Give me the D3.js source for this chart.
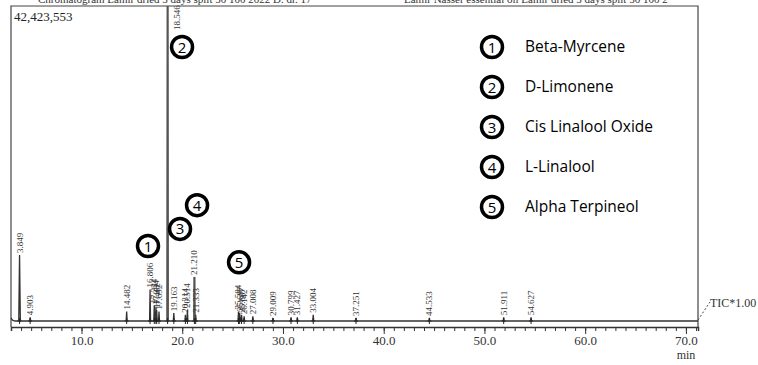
<!DOCTYPE html>
<html><head><meta charset="utf-8">
<script src="https://cdn.jsdelivr.net/npm/d3@7"></script>
<style>
html,body{margin:0;padding:0;background:#fff;}
svg{display:block;}
</style></head>
<body><div id="chart"></div>
<script>
// ---- data ----
const maxIntensity = 42423553;
const peakTimes = [3.849, 4.903, 14.482, 16.806, 17.224, 17.394, 17.462, 17.692, 18.546, 19.163, 20.314, 20.514, 21.210, 21.333, 25.584, 25.697, 25.887, 26.142, 27.008, 29.009, 30.799, 31.427, 33.004, 37.251, 44.533, 51.911, 54.627];
const peakHeights = [8900000, 500000, 1270000, 4240000, 2100000, 1900000, 1480000, 1270000, 42423553, 1060000, 850000, 1480000, 5940000, 850000, 1270000, 1060000, 850000, 640000, 640000, 420000, 510000, 510000, 850000, 420000, 420000, 510000, 510000];
const peakLabels = ["3.849", "4.903", "14.482", "16.806", "17.224", "17.394", "17.462", "17.692", "18.546", "19.163", "20.314", "20.514", "21.210", "21.333", "25.584", "25.697", "25.887", "26.142", "27.008", "29.009", "30.799", "31.427", "33.004", "37.251", "44.533", "51.911", "54.627"];
const xTickLabels = ["10.0", "20.0", "30.0", "40.0", "50.0", "60.0", "70.0"];
const xTickValues = [10, 20, 30, 40, 50, 60, 70];
const compoundNames = ["Beta-Myrcene", "D-Limonene", "Cis Linalool Oxide", "L-Linalool", "Alpha Terpineol"];
const markerNumbers = ["1", "2", "3", "4", "5"];
const markerTimes = [16.6, 19.98, 19.78, 21.47, 25.64];
const markerIntensities = [10100000, 36900000, 12400000, 15600000, 7900000];
const titleLeft = "Chromatogram Lamir dried 5 days split 50 100 2022 D. dr. 17";
const titleRight = "Lamir Nasser essential oil Lamir dried 5 days split 50 100 2";

// ---- layout ----
const W = 758, H = 365;
const svg = d3.select("#chart").append("svg").attr("width", W).attr("height", H);
const x = d3.scaleLinear().domain([3.0, 71.2]).range([11, 698]);
const y = d3.scaleLinear().domain([0, maxIntensity]).range([321, 6]);
const serif = "'Liberation Serif','Times New Roman',serif";

// title (clipped at top, as in the source image)
svg.append("text").attr("x", 38).attr("y", 3).attr("font-family", serif).attr("font-size", 11).attr("fill", "#333").text(titleLeft);
svg.append("text").attr("x", 404).attr("y", 3).attr("font-family", serif).attr("font-size", 11).attr("fill", "#333").text(titleRight);

// frame
svg.append("path").attr("d", `M11,327 V6 H698 V327`).attr("fill", "none").attr("stroke", "#444").attr("stroke-width", 1.2);

// x axis
const xAxis = d3.axisBottom(x).tickValues(d3.range(3, 72, 1)).tickSize(4).tickFormat("");
const gx = svg.append("g").attr("transform", "translate(0,327)").call(xAxis);
gx.select(".domain").attr("stroke", "#333").attr("stroke-width", 1.5);
gx.selectAll(".tick line").attr("stroke", "#333");
const gx2 = svg.append("g").attr("transform", "translate(0,327)")
  .call(d3.axisBottom(x).tickValues(xTickValues).tickSize(7).tickFormat((d, i) => xTickLabels[i]));
gx2.select(".domain").remove();
gx2.selectAll(".tick line").attr("stroke", "#333");
gx2.selectAll(".tick text").attr("font-family", serif).attr("font-size", 13).attr("fill", "#333").attr("dy", "0.6em");
svg.append("text").attr("x", 686).attr("y", 359).attr("text-anchor", "middle").attr("font-family", serif).attr("font-size", 12).attr("fill", "#333").text("min");

// trace
const pts = [[3.0, 380000], [3.15, 120000], [3.4, 0]];
peakTimes.forEach((t, i) => {
  const w = i === 0 ? 0.08 : 0.05;
  pts.push([t - w, 0], [t, peakHeights[i]], [t + w, 0]);
});
pts.push([71.2, 0]);
pts.sort((a, b) => a[0] - b[0]);
svg.append("path").datum(pts)
  .attr("d", d3.line().x(d => x(d[0])).y(d => y(d[1])))
  .attr("fill", "none").attr("stroke", "#333").attr("stroke-width", 1.3);
// emphasised tall peaks
[8, 12].forEach(i => {
  svg.append("line").attr("x1", x(peakTimes[i])).attr("x2", x(peakTimes[i]))
    .attr("y1", y(0)).attr("y2", y(peakHeights[i])).attr("stroke", "#555").attr("stroke-width", 2);
});

// peak base markers
peakTimes.forEach(t => {
  svg.append("line").attr("x1", x(t)).attr("x2", x(t)).attr("y1", y(0) - 3).attr("y2", y(0) + 3).attr("stroke", "#222").attr("stroke-width", 1);
  svg.append("line").attr("x1", x(t) - 2).attr("x2", x(t) + 2).attr("y1", y(0)).attr("y2", y(0)).attr("stroke", "#222").attr("stroke-width", 1);
});

// peak labels
peakTimes.forEach((t, i) => {
  const top = peakHeights[i] >= maxIntensity * 0.95;
  const px = top ? x(t) + 12 : x(t) + 3;
  const py = top ? 30 : y(peakHeights[i]) - 2;
  svg.append("text").attr("transform", `translate(${px},${py}) rotate(-90)`)
    .attr("font-family", serif).attr("font-size", 9).attr("fill", "#333").text(peakLabels[i]);
});

// intensity label
svg.append("text").attr("x", 14).attr("y", 21).attr("font-family", serif).attr("font-size", 13).attr("fill", "#222").text("42,423,553");

// TIC label
svg.append("line").attr("x1", 698).attr("y1", 320).attr("x2", 710).attr("y2", 302).attr("stroke", "#444").attr("stroke-dasharray", "2,2");
svg.append("text").attr("x", 710).attr("y", 307).attr("font-family", serif).attr("font-size", 12).attr("fill", "#333").text("TIC*1.00");

// circled markers
function circled(cx, cy, num) {
  svg.append("circle").attr("cx", cx).attr("cy", cy).attr("r", 10.5).attr("fill", "#fff").attr("stroke", "#000").attr("stroke-width", 3.5);
  svg.append("text").attr("x", cx).attr("y", cy + 5.5).attr("text-anchor", "middle").attr("font-family", "'Open Sans',sans-serif").attr("font-size", 15).attr("fill", "#000").text(num);
}
markerTimes.forEach((t, i) => circled(x(t), y(markerIntensities[i]), markerNumbers[i]));

// legend
const legY = d3.scalePoint().domain(compoundNames).range([47, 207]);
compoundNames.forEach((n, i) => {
  circled(492, legY(n), markerNumbers[i]);
  svg.append("text").attr("x", 525).attr("y", legY(n) + 5).attr("font-family", "'Open Sans',sans-serif").attr("font-size", 15.5).attr("fill", "#000").text(n);
});
</script></body></html>
